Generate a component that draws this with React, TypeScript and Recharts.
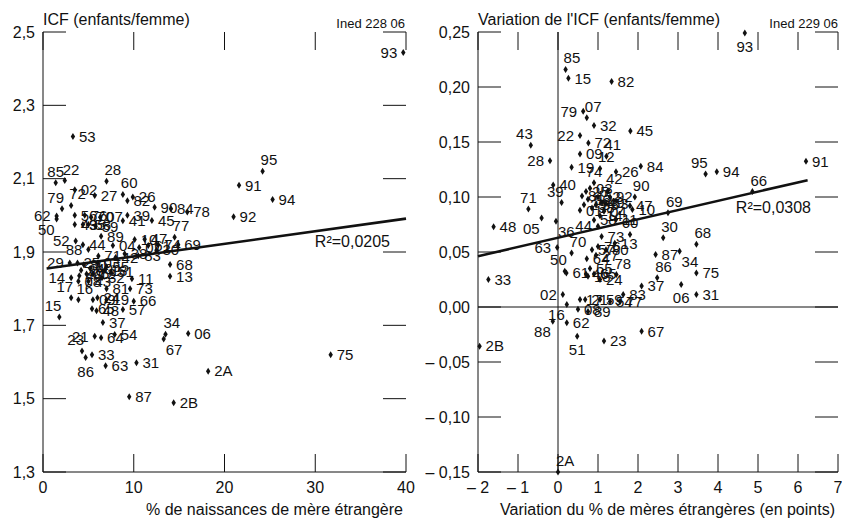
import React from "react";
import { ScatterChart, Scatter, XAxis, YAxis, ReferenceLine } from "recharts";

// départements, same order in every array below
const departements = [
  "01", "02", "03", "04", "05", "06", "07", "08", "09", "10",
  "11", "12", "13", "14", "15", "16", "17", "18", "19", "21",
  "22", "23", "24", "25", "26", "27", "28", "29", "2A", "2B",
  "30", "31", "32", "33", "34", "35", "36", "37", "38", "39",
  "40", "41", "42", "43", "44", "45", "46", "47", "48", "49",
  "50", "51", "52", "53", "54", "55", "56", "57", "58", "59",
  "60", "61", "62", "63", "64", "65", "66", "67", "68", "69",
  "70", "71", "72", "73", "74", "75", "76", "77", "78", "79",
  "80", "81", "82", "83", "84", "85", "86", "87", "88", "89",
  "90", "91", "92", "93", "94", "95",
];

// % de naissances de mère étrangère
const pctMereEtrangere = [
  10.6, 3.5, 6.0, 7.7, 4.8, 16.0, 6.3, 3.9, 5.5, 10.1,
  9.8, 5.5, 14.0, 3.1, 1.8, 3.9, 3.1, 6.8, 7.0, 5.7,
  2.4, 4.3, 6.0, 3.8, 9.9, 5.7, 7.0, 2.95, 18.2, 14.4,
  12.5, 10.3, 6.5, 5.4, 13.5, 4.4, 4.2, 6.6, 9.0, 9.3,
  5.2, 8.8, 8.0, 5.0, 4.4, 12.0, 4.0, 11.2, 5.9, 3.5,
  1.5, 7.5, 3.6, 3.3, 7.9, 7.0, 3.5, 8.8, 5.0, 5.8,
  8.8, 11.6, 1.5, 6.9, 6.4, 5.4, 10.0, 13.3, 14.0, 14.9,
  5.3, 6.1, 3.1, 9.6, 12.7, 31.7, 4.6, 14.5, 15.9, 2.1,
  4.5, 7.0, 9.3, 10.5, 14.1, 1.4, 4.7, 9.5, 5.0, 6.4,
  12.3, 21.6, 21.0, 39.7, 25.3, 24.2,
];

// ICF (enfants/femme)
const icf = [
  1.912, 2.07, 1.87, 1.918, 1.84, 1.678, 1.995, 1.82, 1.77, 1.934,
  1.827, 1.84, 1.834, 1.83, 1.723, 1.77, 1.775, 1.85, 1.77, 1.67,
  2.095, 1.63, 1.775, 1.87, 2.05, 2.054, 2.093, 1.87, 1.575, 1.489,
  1.905, 1.598, 1.83, 1.62, 1.676, 1.975, 1.85, 1.708, 1.895, 2.0,
  1.855, 1.985, 1.885, 1.82, 1.92, 1.986, 1.835, 1.935, 1.74, 1.975,
  1.99, 1.845, 1.93, 2.215, 1.675, 1.86, 2.0, 1.743, 1.975, 1.97,
  2.057, 1.918, 1.998, 1.59, 1.666, 1.745, 1.766, 1.663, 1.866, 1.92,
  1.995, 1.889, 2.027, 1.8, 1.92, 1.62, 2.0, 1.94, 2.009, 2.018,
  1.865, 1.8, 2.04, 1.89, 2.018, 2.089, 1.612, 1.505, 1.907, 1.943,
  2.022, 2.082, 1.996, 2.444, 2.043, 2.12,
];

// variation du % de mères étrangères (en points)
const varPctMereEtrangere = [
  0.55, 0.12, 0.8, 1.15, -0.41, 3.08, 0.72, 0.5, 0.55, 1.86,
  1.45, 1.05, 1.42, 1.05, 0.26, 0.22, 0.55, 0.75, 0.34, 0.68,
  0.55, 1.15, 1.05, 0.7, 1.45, 0.95, -0.2, 0.65, 0.0, -1.96,
  2.63, 3.46, 0.9, -1.74, 3.04, 0.95, -0.05, 2.09, 0.85, 0.09,
  -0.12, 1.21, 1.25, -0.68, 1.0, 1.81, 0.7, 1.8, -1.61, 1.1,
  0.17, 0.48, 1.0, 1.2, 1.3, 0.8, 0.75, 0.85, 0.9, 1.05,
  1.8, 0.21, 0.22, -0.02, 0.72, 0.9, 4.86, 2.09, 3.46, 2.75,
  0.34, -0.74, 0.76, 1.09, 0.9, 3.46, 1.0, 1.55, 1.46, 0.63,
  1.2, 0.6, 1.34, 1.63, 2.07, 0.19, 2.48, 2.44, -0.13, 0.75,
  1.92, 6.2, 1.3, 4.67, 3.97, 3.69,
];

// variation de l'ICF
const varIcf = [
  0.088, 0.0114, 0.108, 0.087, 0.081, 0.0205, 0.172, -0.002, 0.139, 0.0886,
  0.0795, 0.126, 0.058, 0.083, 0.208, 0.0023, 0.0068, 0.028, 0.127, 0.0068,
  0.156, -0.031, 0.025, 0.105, 0.123, 0.047, 0.133, 0.093, -0.15, -0.0356,
  0.063, 0.0114, 0.165, 0.025, 0.0507, 0.093, 0.078, 0.019, 0.09, 0.095,
  0.111, 0.137, 0.106, 0.147, 0.0735, 0.16, 0.03, 0.092, 0.0729, 0.095,
  0.0325, -0.0265, 0.1, 0.094, 0.005, 0.035, 0.098, 0.052, 0.079, 0.0068,
  0.066, 0.031, -0.0144, 0.054, 0.0438, 0.03, 0.105, -0.022, 0.057, 0.0856,
  0.049, 0.089, 0.149, 0.064, 0.113, 0.031, 0.055, 0.005, 0.0295, 0.178,
  0.052, 0.101, 0.205, 0.0114, 0.128, 0.216, 0.0265, 0.0477, -0.0129, -0.004,
  0.1, 0.1325, 0.1, 0.249, 0.123, 0.121,
];

const leftXTicks = [0, 10, 20, 30, 40];
const leftYTicks = [1.3, 1.5, 1.7, 1.9, 2.1, 2.3, 2.5];
const rightXTicks = [-2, -1, 0, 1, 2, 3, 4, 5, 6, 7];
const rightYTicks = [-0.15, -0.1, -0.05, 0, 0.05, 0.1, 0.15, 0.2, 0.25];

// droites de régression (extrémités)
const leftFit = [
  { x: 0.4, y: 1.855 },
  { x: 40, y: 1.991 },
];
const rightFit = [
  { x: -2, y: 0.0462 },
  { x: 6.24, y: 0.1153 },
];

type Side = "r" | "l" | "a" | "ar" | "al" | "b" | "br" | "bl";

const leftSides: Record<string, Side> = {
  "93": "l", "85": "a", "22": "ar", "28": "ar", "60": "ar", "79": "al", "72": "ar",
  "62": "l", "50": "bl", "95": "ar", "52": "l", "88": "l", "29": "l", "14": "l",
  "17": "al", "16": "ar", "15": "al", "21": "l", "23": "al", "86": "b", "77": "ar",
  "34": "ar", "67": "br",
};

const rightSides: Record<string, Side> = {
  "93": "b", "85": "ar", "79": "l", "07": "ar", "22": "l", "43": "al", "28": "l",
  "41": "ar", "12": "ar", "95": "al", "66": "ar", "71": "a", "39": "al", "05": "bl",
  "36": "br", "63": "l", "50": "al", "02": "l", "16": "bl", "88": "bl", "51": "b",
  "2A": "ar", "86": "ar", "78": "ar", "06": "b", "34": "br", "69": "ar", "44": "l",
  "90": "ar", "60": "a", "70": "ar", "30": "ar", "68": "ar", "74": "a", "42": "ar",
};

const leftPoints = departements.map((d, i) => ({ dep: d, x: pctMereEtrangere[i], y: icf[i] }));
const rightPoints = departements.map((d, i) => ({ dep: d, x: varPctMereEtrangere[i], y: varIcf[i] }));

const INK = "#111";
const FONT = "'Liberation Sans', Arial, Helvetica, sans-serif";
const LABEL_SIZE = 15;
const TICK_LEN_X = 18; // tick marks hanging from the top and bottom frame
const TICK_LEN_Y = 23; // tick marks on the left and right frame

function makeMarker(sides: Record<string, Side>) {
  return (props: any) => {
    const { cx, cy, payload } = props;
    if (cx == null || cy == null) return <g />;
    const side: Side = sides[payload.dep] || "r";
    let tx = cx + 6;
    let ty = cy + 5.3;
    let anchor: "start" | "end" | "middle" = "start";
    if (side === "l") { tx = cx - 6; anchor = "end"; }
    else if (side === "a") { tx = cx; ty = cy - 6; anchor = "middle"; }
    else if (side === "ar") { tx = cx - 2; ty = cy - 6; }
    else if (side === "al") { tx = cx + 2; ty = cy - 6; anchor = "end"; }
    else if (side === "b") { tx = cx; ty = cy + 19; anchor = "middle"; }
    else if (side === "br") { tx = cx + 2; ty = cy + 16; }
    else if (side === "bl") { tx = cx - 2; ty = cy + 16; anchor = "end"; }
    return (
      <g>
        <path d={`M${cx},${cy - 3.5}L${cx + 2.2},${cy}L${cx},${cy + 3.5}L${cx - 2.2},${cy}Z`} fill={INK} />
        <text x={tx} y={ty} textAnchor={anchor} fontSize={LABEL_SIZE} fontFamily={FONT} fill={INK}>
          {payload.dep}
        </text>
      </g>
    );
  };
}

// inside tick marks: short stubs at both ends of a full-height / full-width reference line
const verticalStubs = (p: any) => {
  const top = Math.min(p.y1, p.y2);
  const bot = Math.max(p.y1, p.y2);
  return (
    <g>
      <line x1={p.x1} x2={p.x1} y1={top} y2={top + TICK_LEN_X} stroke={INK} strokeWidth={1} />
      <line x1={p.x1} x2={p.x1} y1={bot - TICK_LEN_X} y2={bot} stroke={INK} strokeWidth={1} />
    </g>
  );
};

const horizontalStubs = (p: any) => {
  const l = Math.min(p.x1, p.x2);
  const r = Math.max(p.x1, p.x2);
  return (
    <g>
      <line x1={l} x2={l + TICK_LEN_Y} y1={p.y1} y2={p.y1} stroke={INK} strokeWidth={1} />
      <line x1={r - TICK_LEN_Y} x2={r} y1={p.y1} y2={p.y1} stroke={INK} strokeWidth={1} />
    </g>
  );
};

const fmtDec1 = (v: number) => v.toFixed(1).replace(".", ",");
const fmtDec2 = (v: number) => (v < -1e-9 ? "– " : "") + Math.abs(v).toFixed(2).replace(".", ",");
const fmtSigned = (v: number) => (v < 0 ? `– ${Math.abs(v)}` : String(v));

const tickStyle = { fill: INK, fontSize: 16, fontFamily: FONT };

export default function App() {
  return (
    <div style={{ position: "absolute", left: 0, top: 0, width: 842, height: 518, background: "#fff", fontFamily: FONT }}>
      <div style={{ position: "absolute", left: 0, top: 0 }}>
        <ScatterChart width={421} height={518} margin={{ top: 32, right: 15, bottom: 0, left: 0 }}>
          <XAxis
            xAxisId="b"
            type="number"
            dataKey="x"
            domain={[0, 40]}
            ticks={leftXTicks}
            interval={0}
            tickLine={false}
            tickSize={0}
            tickMargin={10}
            height={46}
            stroke={INK}
            tick={tickStyle}
            label={{ value: "% de naissances de mère étrangère", position: "insideBottomRight", offset: 3, fill: INK, fontSize: 16, fontFamily: FONT }}
          />
          <XAxis xAxisId="t" orientation="top" type="number" dataKey="x" domain={[0, 40]} ticks={leftXTicks} tick={false} tickLine={false} height={0} stroke={INK} />
          <YAxis
            yAxisId="l"
            type="number"
            dataKey="y"
            domain={[1.3, 2.5]}
            ticks={leftYTicks}
            interval={0}
            tickLine={false}
            tickSize={0}
            tickMargin={8}
            width={43}
            stroke={INK}
            tick={tickStyle}
            tickFormatter={fmtDec1}
          />
          <YAxis yAxisId="r" orientation="right" type="number" dataKey="y" domain={[1.3, 2.5]} ticks={leftYTicks} tick={false} tickLine={false} width={0} stroke={INK} />
          {leftXTicks.map((t) => (
            <ReferenceLine key={`lx${t}`} xAxisId="b" yAxisId="l" x={t} shape={verticalStubs} />
          ))}
          {leftYTicks.map((t) => (
            <ReferenceLine key={`ly${t}`} xAxisId="b" yAxisId="l" y={t} shape={horizontalStubs} />
          ))}
          <ReferenceLine xAxisId="b" yAxisId="l" segment={leftFit} stroke={INK} strokeWidth={2.6} />
          <Scatter xAxisId="b" yAxisId="l" data={leftPoints} shape={makeMarker(leftSides)} isAnimationActive={false} />
        </ScatterChart>
      </div>

      <div style={{ position: "absolute", left: 421, top: 0 }}>
        <ScatterChart width={421} height={518} margin={{ top: 32, right: 4, bottom: 0, left: 0 }}>
          <XAxis
            xAxisId="b"
            type="number"
            dataKey="x"
            domain={[-2, 7]}
            ticks={rightXTicks}
            interval={0}
            tickLine={false}
            tickSize={0}
            tickMargin={10}
            height={46}
            stroke={INK}
            tick={tickStyle}
            tickFormatter={fmtSigned}
            label={{ value: "Variation du % de mères étrangères (en points)", position: "insideBottomRight", offset: 3, fill: INK, fontSize: 16, fontFamily: FONT }}
          />
          <XAxis xAxisId="t" orientation="top" type="number" dataKey="x" domain={[-2, 7]} ticks={rightXTicks} tick={false} tickLine={false} height={0} stroke={INK} />
          <YAxis
            yAxisId="l"
            type="number"
            dataKey="y"
            domain={[-0.15, 0.25]}
            ticks={rightYTicks}
            interval={0}
            tickLine={false}
            tickSize={0}
            tickMargin={8}
            width={57}
            stroke={INK}
            tick={tickStyle}
            tickFormatter={fmtDec2}
          />
          <YAxis yAxisId="r" orientation="right" type="number" dataKey="y" domain={[-0.15, 0.25]} ticks={rightYTicks} tick={false} tickLine={false} width={0} stroke={INK} />
          {rightXTicks.map((t) => (
            <ReferenceLine key={`rx${t}`} xAxisId="b" yAxisId="l" x={t} shape={verticalStubs} />
          ))}
          {rightYTicks.map((t) => (
            <ReferenceLine key={`ry${t}`} xAxisId="b" yAxisId="l" y={t} shape={horizontalStubs} />
          ))}
          <ReferenceLine xAxisId="b" yAxisId="l" x={0} stroke={INK} strokeWidth={1} />
          <ReferenceLine xAxisId="b" yAxisId="l" y={0} stroke={INK} strokeWidth={1} />
          <ReferenceLine xAxisId="b" yAxisId="l" segment={rightFit} stroke={INK} strokeWidth={2.6} />
          <Scatter xAxisId="b" yAxisId="l" data={rightPoints} shape={makeMarker(rightSides)} isAnimationActive={false} />
        </ScatterChart>
      </div>

      <svg width={842} height={518} style={{ position: "absolute", left: 0, top: 0, pointerEvents: "none" }}>
        <text x={43} y={25} fontSize={16} fontFamily={FONT} fill={INK}>ICF (enfants/femme)</text>
        <text x={405} y={28} fontSize={13} fontFamily={FONT} fill={INK} textAnchor="end">Ined 228 06</text>
        <text x={478} y={25} fontSize={16} fontFamily={FONT} fill={INK}>Variation de l'ICF (enfants/femme)</text>
        <text x={838} y={28} fontSize={13} fontFamily={FONT} fill={INK} textAnchor="end">Ined 229 06</text>
        <text x={390} y={247} fontSize={16} fontFamily={FONT} fill={INK} textAnchor="end">R²=0,0205</text>
        <text x={811} y={213} fontSize={16} fontFamily={FONT} fill={INK} textAnchor="end">R²=0,0308</text>
      </svg>
    </div>
  );
}
